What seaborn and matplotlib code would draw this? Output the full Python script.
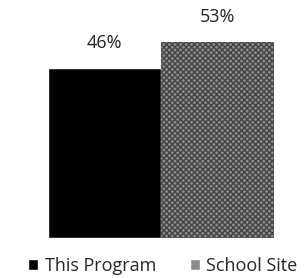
import matplotlib
matplotlib.use('Agg')
import matplotlib.pyplot as plt
import seaborn as sns
import pandas as pd

# data
series = ['This Program', 'School Site']
values = [46, 53]
colors = ['#000000', '#8c8c8c']

sns.set_style('white')
plt.rcParams['font.family'] = ['Open Sans', 'DejaVu Sans']

df = pd.DataFrame({'group': ['All'] * len(series), 'series': series, 'value': values})

fig = plt.figure(figsize=(3.05, 2.78), dpi=100)
ax = fig.add_axes([48 / 305, 40 / 278, 226 / 305, 228 / 278])

sns.barplot(data=df, x='group', y='value', hue='series', palette=colors,
            width=0.9, saturation=1, ax=ax, legend=True)

for bar, ser in zip(ax.patches, series):
    if ser == 'School Site':
        bar.set_hatch('xxxxxx')
        bar.set_edgecolor('#444444')
        bar.set_linewidth(0)

for cont in ax.containers:
    ax.bar_label(cont, fmt='%d%%', padding=12, fontsize=13, color='#222222')

ax.set_xlim(-0.45, 0.45)
ax.set_ylim(0, 228 / 3.69)
ax.set_axis_off()

leg = ax.legend(loc='center', bbox_to_anchor=(0.5 + 2 / 226, -28 / 228), ncol=2,
                frameon=False, fontsize=13, handlelength=0.55, handleheight=0.55,
                handletextpad=0.35, columnspacing=1.9)

plt.savefig('out.png', dpi=100, facecolor='white')
